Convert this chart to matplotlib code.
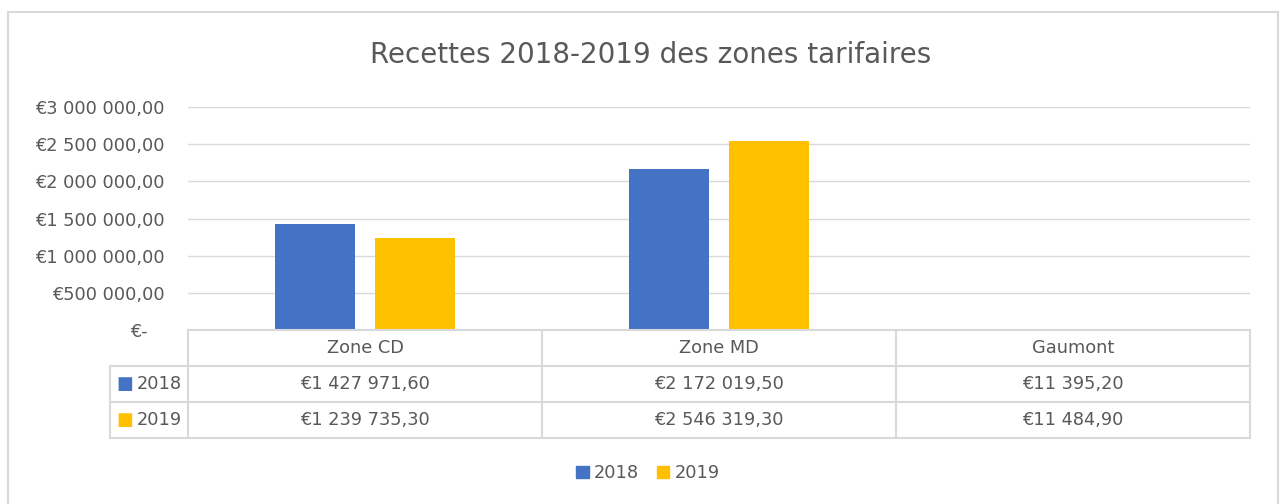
import matplotlib.pyplot as plt
import matplotlib.transforms as mtransforms
from matplotlib.patches import Rectangle
import numpy as np

# data
categories = ['Zone CD', 'Zone MD', 'Gaumont']
series = ['2018', '2019']
values_2018 = [1427971.60, 2172019.50, 11395.20]
values_2019 = [1239735.30, 2546319.30, 11484.90]
colors = ['#4472C4', '#FFC000']
yticks = [0, 500000, 1000000, 1500000, 2000000, 2500000, 3000000]

plt.rcParams['font.family'] = ['DejaVu Sans']
text_color = '#595959'
grid_color = '#D9D9D9'
fs = 12.8


def euro(v):
    if v == 0:
        return '€-   '
    s = f'{v:,.2f}'.replace(',', ' ').replace('.', ',')
    return '€' + s


fig = plt.figure(figsize=(12.83, 5.04), dpi=100)
W, H = 1283, 504

# outer chart frame
fig.patches.append(Rectangle((8 / W, -0.1), 1270 / W, 1.1 - 12 / H,
                             transform=fig.transFigure, fill=False,
                             edgecolor=grid_color, lw=1.5))

ax = fig.add_axes([188 / W, 1 - 330 / H, 1062 / W, 223 / H])
x = np.arange(len(categories))
w = 0.225
off = 0.142
ax.bar(x - off, values_2018, w, color=colors[0], zorder=3)
ax.bar(x + off, values_2019, w, color=colors[1], zorder=3)

ax.set_xlim(-0.5, len(categories) - 0.5)
ax.set_ylim(0, 3000000)
ax.set_yticks(yticks)
ax.set_yticklabels([euro(v) for v in yticks], fontsize=fs, color=text_color)
ax.tick_params(axis='y', length=0, pad=17)
ax.set_xticks([])
for s in ax.spines.values():
    s.set_visible(False)
ax.grid(axis='y', color=grid_color, lw=1, zorder=0)

fig.text(651 / W, 1 - 55 / H, 'Recettes 2018-2019 des zones tarifaires',
         ha='center', va='center', fontsize=20, color=text_color)

# data table under the axis
tr = mtransforms.blended_transform_factory(ax.transData, ax.transAxes)
rh = 36 / 223
left_lab = -0.5 - 78 / 354
right = len(categories) - 0.5
line_kw = dict(color=grid_color, lw=1.5, transform=tr, clip_on=False, zorder=4)

# horizontal lines
ax.plot([-0.5, right], [0, 0], **line_kw)
for r in range(1, 4):
    ax.plot([left_lab, right], [-r * rh, -r * rh], **line_kw)
# vertical lines
for xb in np.arange(-0.5, right + 0.01, 1.0):
    ax.plot([xb, xb], [0, -3 * rh], **line_kw)
ax.plot([left_lab, left_lab], [-rh, -3 * rh], **line_kw)

for i, c in enumerate(categories):
    ax.text(i, -0.5 * rh, c, ha='center', va='center', fontsize=fs,
            color=text_color, transform=tr)
for r, (name, vals, col) in enumerate(zip(series, [values_2018, values_2019], colors)):
    yc = -(r + 1.5) * rh
    for i, v in enumerate(vals):
        ax.text(i, yc, euro(v), ha='center', va='center', fontsize=fs,
                color=text_color, transform=tr)
    ax.text(left_lab + 0.018, yc, '\u25A0', ha='left', va='center', fontsize=fs,
            color=col, transform=tr)
    ax.text(left_lab + 0.075, yc, name, ha='left', va='center', fontsize=fs,
            color=text_color, transform=tr)

# legend
handles = [Rectangle((0, 0), 1, 1, color=c) for c in colors]
fig.legend(handles, series, loc='center', bbox_to_anchor=(648 / W, 1 - 473 / H),
           ncol=2, frameon=False, fontsize=fs, handlelength=0.7, handleheight=0.7,
           handletextpad=0.3, columnspacing=1.0, labelcolor=text_color)

fig.savefig('out.png', dpi=100)
